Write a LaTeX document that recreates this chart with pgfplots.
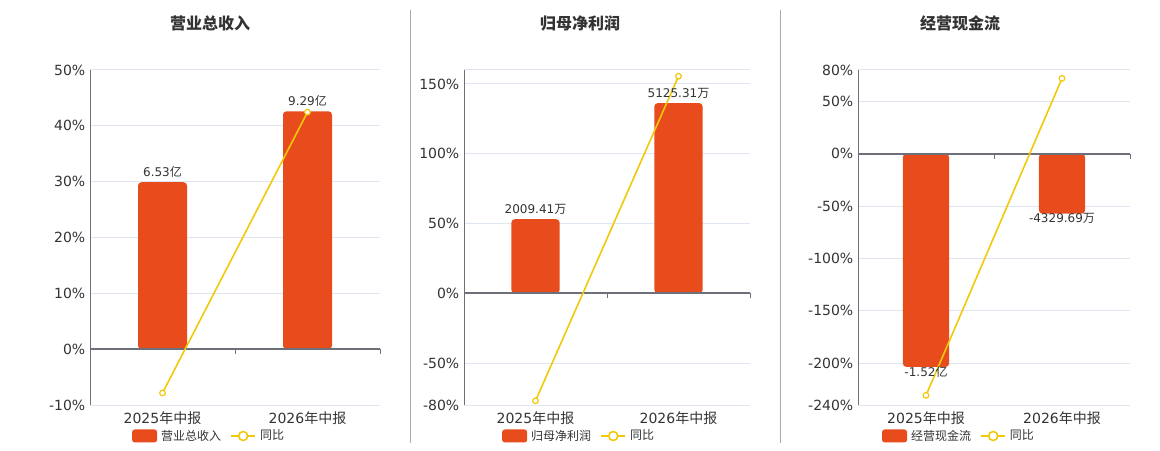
\documentclass[border=0pt]{standalone}
\usepackage{pgfplots}
\pgfplotsset{compat=1.18}
\usepackage{fontspec}
\setmainfont{DejaVu Sans}
\newfontfamily\cjk{Noto Sans CJK SC}
\definecolor{barc}{RGB}{232,75,28}
\definecolor{linec}{RGB}{242,200,10}
\definecolor{gridc}{RGB}{224,230,241}
\definecolor{axc}{RGB}{110,112,121}
\definecolor{txt}{RGB}{51,51,51}
\definecolor{sepc}{RGB}{170,170,170}
\pgfplotsset{
  mystyle/.style={
    scale only axis, height=251.25pt,
    axis x line*=bottom, axis y line*=left,
    x axis line style={draw=none},
    y axis line style={axc, line width=0.75pt},
    xmin=-0.5, xmax=1.5, xtick={0,1},
    xticklabels={2025{\cjk 年中报},2026{\cjk 年中报}},
    major tick length=0pt,
    ymajorgrids, major grid style={gridc, line width=0.75pt},
    tick label style={font=\fontsize{10.5}{12}\selectfont, text=txt},
    xticklabel style={yshift=-1.5pt},
    clip=false,
    legend columns=2,
    legend style={draw=none, fill=none, anchor=center,
      font=\fontsize{9}{11}\selectfont\color{txt},
      inner sep=0pt,
      nodes={inner xsep=3pt, inner ysep=1pt},
      /tikz/every even column/.append style={column sep=4pt}},
  },
  barst/.style={ybar, bar shift=0pt, fill=barc, draw=none, rounded corners=2.6pt,
    nodes near coords style={font=\fontsize{9}{11}\selectfont, text=txt, rounded corners=0pt},
    legend image code/.code={\fill[barc, rounded corners=2pt] (0pt,-4.875pt) rectangle (18.75pt,4.875pt);}},
  linest/.style={linec, line width=1.2pt, mark=*, mark size=2.1pt,
    mark options={fill=white, draw=linec, line width=0.9pt},
    legend image code/.code={\draw[linec, line width=1.2pt] (0pt,0pt) -- (18pt,0pt);
      \draw[linec, fill=white, line width=1.2pt] (9pt,0pt) circle (3.4pt);}},
}
\begin{document}
\begin{tikzpicture}
\path[use as bounding box] (0,0) rectangle (870pt,337.5pt);
% separators
\draw[sepc, line width=0.75pt] (307.5pt,330pt) -- (307.5pt,5.25pt);
\draw[sepc, line width=0.75pt] (585pt,330pt) -- (585pt,5.25pt);
% titles
\node[text=txt, font=\fontsize{12}{14}\selectfont\bfseries] at (157.5pt,320.25pt) {\cjk\bfseries 营业总收入};
\node[text=txt, font=\fontsize{12}{14}\selectfont\bfseries] at (435pt,320.25pt) {\cjk\bfseries 归母净利润};
\node[text=txt, font=\fontsize{12}{14}\selectfont\bfseries] at (720pt,320.25pt) {\cjk\bfseries 经营现金流};

% Panel 1
\begin{axis}[mystyle, at={(67.5pt,33.75pt)}, anchor=south west, width=217.5pt,
  ymin=-10, ymax=50, ytick={-10,0,10,20,30,40,50},
  yticklabels={-10\%,0\%,10\%,20\%,30\%,40\%,50\%},
  legend style={at={(0.414,-0.0925)}}]
\addplot[barst, bar width=36.75pt,
  nodes near coords={\ifcase\coordindex\relax 6.53{\cjk 亿}\or 9.29{\cjk 亿}\fi}]
  coordinates {(0,29.9) (1,42.6)};
\addlegendentry{\cjk 营业总收入}
\draw[axc, line width=1.5pt] (axis cs:-0.5,0) -- (axis cs:1.5,0);
\draw[axc, line width=0.75pt] (axis cs:0.5,0) -- ++(0pt,-3.75pt);
\draw[axc, line width=0.75pt] (axis cs:1.5,0) -- ++(0pt,-3.75pt);
\addplot[linest] coordinates {(0,-7.84) (1,42.45)};
\addlegendentry{\cjk 同比}
\end{axis}

% Panel 2
\begin{axis}[mystyle, at={(348pt,33.75pt)}, anchor=south west, width=214.5pt,
  ymin=-80, ymax=160, ytick={-80,-50,0,50,100,150,160},
  yticklabels={-80\%,-50\%,0\%,50\%,100\%,150\%,{}},
  legend style={at={(0.406,-0.0925)}}]
\addplot[barst, bar width=36.2pt,
  nodes near coords={\ifcase\coordindex\relax 2009.41{\cjk 万}\or 5125.31{\cjk 万}\fi}]
  coordinates {(0,53.1) (1,136.3)};
\addlegendentry{\cjk 归母净利润}
\draw[axc, line width=1.5pt] (axis cs:-0.5,0) -- (axis cs:1.5,0);
\draw[axc, line width=0.75pt] (axis cs:0.5,0) -- ++(0pt,-3.75pt);
\draw[axc, line width=0.75pt] (axis cs:1.5,0) -- ++(0pt,-3.75pt);
\addplot[linest] coordinates {(0,-77.0) (1,155.5)};
\addlegendentry{\cjk 同比}
\end{axis}

% Panel 3
\begin{axis}[mystyle, at={(643.5pt,33.75pt)}, anchor=south west, width=204pt,
  ymin=-240, ymax=80, ytick={-240,-200,-150,-100,-50,0,50,80},
  yticklabels={-240\%,-200\%,-150\%,-100\%,-50\%,0\%,50\%,80\%},
  legend style={at={(0.375,-0.0925)}}]
\addplot[barst, bar width=34.7pt,
  nodes near coords style={yshift=4pt},
  nodes near coords={\ifcase\coordindex\relax -1.52{\cjk 亿}\or -4329.69{\cjk 万}\fi}]
  coordinates {(0,-203.6) (1,-57.2)};
\addlegendentry{\cjk 经营现金流}
\draw[axc, line width=1.5pt] (axis cs:-0.5,0) -- (axis cs:1.5,0);
\draw[axc, line width=0.75pt] (axis cs:0.5,0) -- ++(0pt,-3.75pt);
\draw[axc, line width=0.75pt] (axis cs:1.5,0) -- ++(0pt,-3.75pt);
\addplot[linest] coordinates {(0,-230.8) (1,72.0)};
\addlegendentry{\cjk 同比}
\end{axis}
\end{tikzpicture}
\end{document}
